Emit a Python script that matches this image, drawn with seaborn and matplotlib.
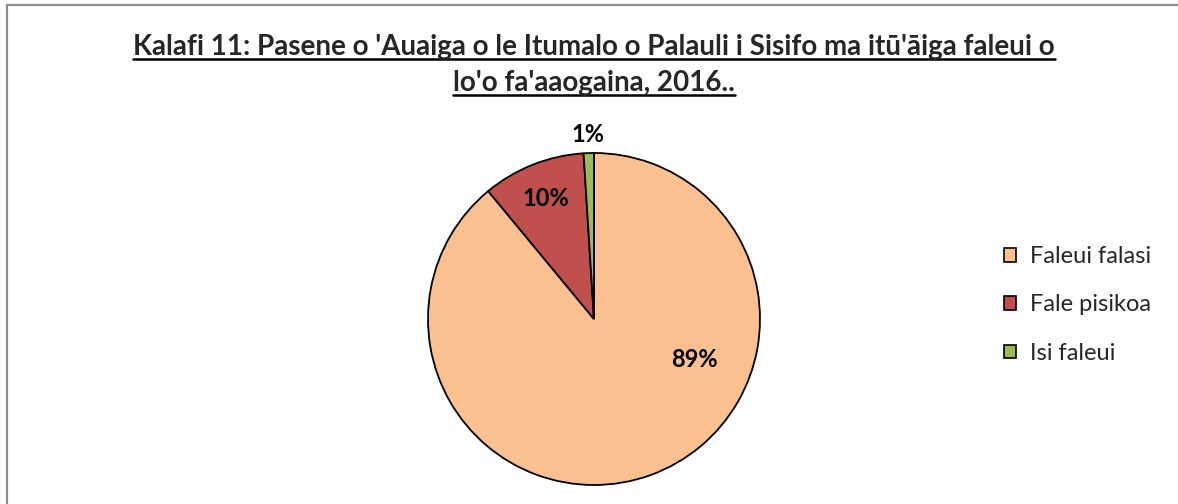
import numpy as np
import seaborn as sns
import matplotlib.pyplot as plt
from matplotlib.lines import Line2D
from matplotlib.patches import Patch

sns.set_theme(style="white")
plt.rcParams['font.family'] = ['Lato', 'DejaVu Sans']

# data
categories = ['Faleui falasi', 'Fale pisikoa', 'Isi faleui']
shares = [89, 10, 1]
# label placement (distance from centre, angle override in degrees; None = wedge middle)
label_dist = [0.65, 0.78, 1.11]
label_angle = [-22, None, None]
colors = ['#FAC090', '#C0504D', '#9BBB59']

title_lines = ["Kalafi 11: Pasene o 'Auaiga o le Itumalo o Palauli i Sisifo ma itū'āiga faleui o",
               "lo'o fa'aaogaina, 2016.."]

W, H = 1178, 504
fig = plt.figure(figsize=(W / 100, H / 100), dpi=100)

# outer chart frame
fig.add_artist(Line2D([7 / W, 7 / W], [0, 1 - 5 / H], color='#8c8c8c', lw=1.6, transform=fig.transFigure))
fig.add_artist(Line2D([7 / W, 1], [1 - 5 / H, 1 - 5 / H], color='#8c8c8c', lw=1.6, transform=fig.transFigure))

cx, cy, r = 594, 319, 166
ax = fig.add_axes([(cx - r) / W, (H - cy - r) / H, 2 * r / W, 2 * r / H])
wedges, _ = ax.pie(shares, colors=colors, startangle=90, counterclock=False,
                   wedgeprops=dict(edgecolor='black', linewidth=1.3))
ax.set_xlim(-1, 1)
ax.set_ylim(-1, 1)
ax.set_aspect('equal')

for w, v, d, a in zip(wedges, shares, label_dist, label_angle):
    if a is None:
        a = (w.theta1 + w.theta2) / 2
    ang = np.deg2rad(a)
    ax.text(d * np.cos(ang), d * np.sin(ang), f'{v}%', ha='center', va='center',
            fontsize=17, fontweight='bold', color='black')

handles = [Patch(facecolor=c, edgecolor='black', linewidth=1.2) for c in colors]
fig.legend(handles, categories, loc='center left', bbox_to_anchor=(983 / W, 1 - 305 / H),
           frameon=False, fontsize=17, handlelength=0.5, handleheight=0.5,
           handletextpad=0.6, labelspacing=1.15)

# title with underline
renderer = fig.canvas.get_renderer()
for line, y in zip(title_lines, [47, 83]):
    t = fig.text(0.5 * (1 + 10 / W), 1 - y / H, line, ha='center', va='center',
                 fontsize=20, fontweight='bold')
    bb = t.get_window_extent(renderer)
    uy = bb.y0 + 1
    fig.add_artist(Line2D([bb.x0 / W, bb.x1 / W], [uy / H, uy / H], color='black', lw=1.8,
                          transform=fig.transFigure))

fig.savefig('out.png', dpi=100)
